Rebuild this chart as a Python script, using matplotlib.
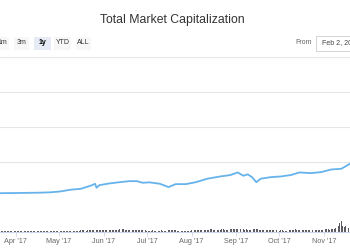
import numpy as np
import pandas as pd
import matplotlib
matplotlib.use('Agg')
import matplotlib.pyplot as plt
import matplotlib.dates as mdates
from matplotlib.patches import Rectangle

plt.rcParams.update({
    'font.family': ['Liberation Sans', 'DejaVu Sans'],
})

# ---- Data (billions USD) ----
cap_dates = ['2017-03-21', '2017-04-01', '2017-04-18', '2017-04-25', '2017-05-02',
             '2017-05-09', '2017-05-16', '2017-05-23', '2017-05-26', '2017-05-27',
             '2017-05-29', '2017-06-05', '2017-06-12', '2017-06-19', '2017-06-24',
             '2017-06-28', '2017-07-03', '2017-07-10', '2017-07-16', '2017-07-21',
             '2017-07-28', '2017-08-04', '2017-08-12', '2017-08-21', '2017-08-28',
             '2017-09-02', '2017-09-06', '2017-09-09', '2017-09-12', '2017-09-15',
             '2017-09-18', '2017-09-25', '2017-10-02', '2017-10-09', '2017-10-15',
             '2017-10-23', '2017-10-30', '2017-11-06', '2017-11-13', '2017-11-16',
             '2017-11-19']
cap_values = [19, 20, 22, 24, 29,
              39, 44, 62, 73, 50,
              65, 75, 82, 88, 88,
              79, 81, 73, 54, 71,
              71, 82, 102, 115, 123,
              138, 119, 127, 111, 82,
              102, 111, 115, 123, 138,
              134, 140, 155, 159, 173,
              188]

vol_start = '2017-03-21'
vol_values = [
    # Mar 21-31
    0.3, 0.4, 0.3, 0.3, 0.4, 0.3, 0.4, 0.5, 0.4, 0.3, 0.3,
    # Apr
    0.3, 0.3, 0.4, 0.4, 0.3, 0.4, 0.3, 0.3, 0.4, 0.3, 0.3, 0.4, 0.5, 0.4, 0.4,
    0.3, 0.4, 0.5, 0.5, 0.6, 0.6, 0.5, 0.5, 0.6, 0.7, 0.8, 1.0, 1.2, 0.9, 0.8,
    # May
    0.9, 0.8, 1.0, 1.2, 1.5, 1.1, 1.0, 1.1, 1.3, 1.4, 1.2, 1.5, 1.1, 1.2, 1.6,
    1.8, 1.9, 2.0, 1.8, 1.7, 1.9, 2.2, 2.6, 3.0, 3.4, 2.5, 1.9, 2.0, 2.4, 2.3, 2.0,
    # Jun
    2.2, 2.4, 2.1, 2.3, 2.5, 3.1, 3.0, 2.6, 2.4, 2.7, 3.2, 4.2, 3.8, 3.5, 3.6,
    3.0, 2.6, 2.8, 3.0, 3.3, 3.0, 2.6, 2.4, 2.2, 2.1, 2.3, 2.6, 2.4, 2.1, 2.0,
    # Jul
    1.4, 1.6, 1.5, 1.7, 1.8, 1.5, 1.5, 1.2, 1.0, 1.6, 1.8, 1.5, 1.3, 1.2, 1.6,
    2.0, 2.5, 2.0, 2.2, 2.6, 1.8, 1.4, 1.3, 1.2, 1.5, 1.4, 1.3, 1.2, 1.1, 1.1, 1.6,
    # Aug
    2.0, 2.2, 2.1, 2.3, 2.5, 2.3, 2.4, 2.8, 2.7, 2.5, 2.8, 3.1, 3.4, 3.8, 3.6,
    3.2, 3.3, 3.5, 3.2, 3.0, 3.4, 3.7, 3.5, 3.2, 3.0, 3.1, 3.3, 3.6, 4.0, 4.2, 3.8,
    # Sep
    4.0, 4.8, 3.6, 3.8, 4.2, 3.9, 3.4, 3.6, 3.0, 2.6, 2.8, 3.2, 3.8, 4.6, 5.2,
    4.0, 2.8, 2.6, 2.4, 2.2, 2.3, 2.1, 1.9, 1.8, 2.0, 2.1, 2.2, 2.0, 1.9, 1.7,
    # Oct
    1.6, 1.8, 1.9, 1.7, 1.6, 1.5, 1.4, 1.8, 2.2, 2.6, 2.8, 3.6, 3.4, 2.8, 2.6,
    2.4, 2.8, 2.6, 2.4, 2.9, 2.6, 2.4, 2.8, 3.0, 2.8, 2.6, 2.4, 2.7, 2.9, 2.8, 3.1,
    # Nov 1-19
    3.8, 4.6, 4.2, 3.6, 3.4, 3.6, 4.4, 5.2, 6.0, 8.0, 9.0, 14.0, 19.0, 10.0, 8.0,
    9.5, 7.5, 6.0, 5.5,
]

buttons = ['1m', '3m', '1y', 'YTD', 'ALL']
selected = '1y'
from_text = 'Feb 2, 2017'

LINE = '#66b3ec'
GRID = '#e6e6e6'
AXIS = '#ccd6eb'

cap_x = pd.to_datetime(cap_dates)
vol_x = pd.date_range(vol_start, periods=len(vol_values), freq='D')
x0, x1 = pd.Timestamp('2017-03-21'), pd.Timestamp('2017-11-19 01:00')

fig = plt.figure(figsize=(3.5, 2.5), dpi=100)
W, H = 350, 250

def fy(py):
    return 1 - py / H

# main pane
ax = fig.add_axes([0, fy(196.5), 1, fy(57) - fy(196.5)])
ax.plot(cap_x, cap_values, color=LINE, lw=1.3, zorder=3)
ax.set_xlim(x0, x1)
ax.set_ylim(0, 800)
ax.set_yticks([0, 200, 400, 600, 800])
ax.grid(axis='y', color=GRID, lw=0.8)
ax.set_xticks([])
ax.tick_params(left=False, labelleft=False)
for s in ax.spines.values():
    s.set_visible(False)

# volume pane
axv = fig.add_axes([0, fy(231.5), 1, fy(197) - fy(231.5)])
axv.bar(vol_x, vol_values, width=0.6, color='#5a5a60', align='center')
axv.set_xlim(x0, x1)
axv.set_ylim(0, 60)
axv.set_yticks([])
for s in ['top', 'left', 'right']:
    axv.spines[s].set_visible(False)
axv.spines['bottom'].set_color(AXIS)
axv.spines['bottom'].set_linewidth(0.8)
axv.xaxis.set_major_locator(mdates.MonthLocator())
axv.xaxis.set_major_formatter(mdates.DateFormatter("%b '%y"))
axv.tick_params(axis='x', length=3, width=0.6, color=AXIS, labelsize=5.2,
                labelcolor='#666666', pad=1.5)

# title
fig.text(172 / W, fy(20), 'Total Market Capitalization', ha='center', va='center',
         fontsize=8.8, color='#333333')

# range selector buttons
btn_x = [2, 21.5, 42.5, 62.5, 83]
btn_w = [14, 14, 17, 17, 15]
for label, bx, bw in zip(buttons, btn_x, btn_w):
    on = label == selected
    fig.patches.append(Rectangle(((bx - bw / 2) / W, fy(49.5)), bw / W, 12.5 / H,
                                 transform=fig.transFigure,
                                 facecolor='#e6ebf5' if on else '#f7f7f7',
                                 edgecolor='none'))
    fig.text(bx / W, fy(43), label, ha='center', va='center', fontsize=5,
             color='#000000' if on else '#333333',
             fontweight='bold' if on else 'normal')

# date input
fig.text(303.5 / W, fy(43), 'From', ha='center', va='center', fontsize=5, color='#666666')
fig.patches.append(Rectangle((316 / W, fy(50.5)), 60 / W, 14 / H, transform=fig.transFigure,
                             facecolor='white', edgecolor='#cccccc', lw=0.6))
fig.text(322 / W, fy(43), from_text, ha='left', va='center', fontsize=5, color='#444444')

fig.savefig('out.png', dpi=100)
